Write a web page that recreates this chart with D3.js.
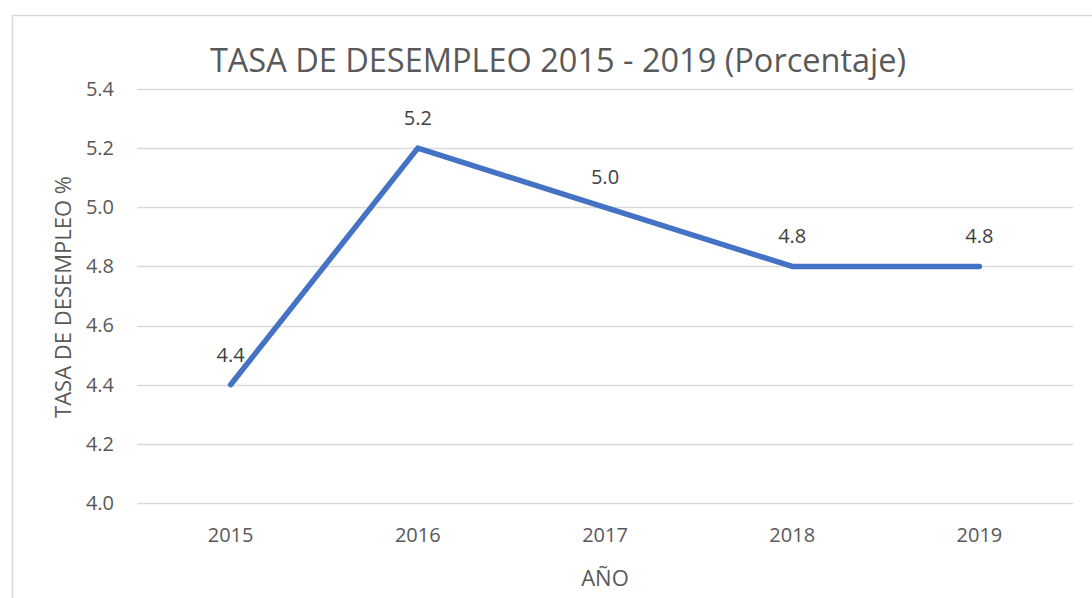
<!DOCTYPE html>
<html><head><meta charset="utf-8">
<script src="https://cdn.jsdelivr.net/npm/d3@7"></script>
<style>html,body{margin:0;padding:0;background:#fff;}svg{display:block;}</style>
</head><body>
<script>
const years = ["2015","2016","2017","2018","2019"];
const rates = [4.4, 5.2, 5.0, 4.8, 4.8];
const yTicks = [4.0, 4.2, 4.4, 4.6, 4.8, 5.0, 5.2, 5.4];
const titleText = "TASA DE DESEMPLEO 2015 - 2019 (Porcentaje)";
const yTitle = "TASA DE DESEMPLEO %";
const xTitle = "AÑO";

const W = 1092, H = 598;
const font = "'Open Sans', sans-serif";
const svg = d3.select("body").append("svg").attr("width", W).attr("height", H);

// chart border
svg.append("rect").attr("x", 12.5).attr("y", 15.5).attr("width", 1100).attr("height", 620)
  .attr("fill", "#fff").attr("stroke", "#d9d9d9").attr("stroke-width", 1.5);

const x = d3.scaleBand().domain(years).range([137, 1073]);
const y = d3.scaleLinear().domain([4.0, 5.4]).range([503, 89]);

// gridlines
svg.append("g").selectAll("line").data(yTicks).join("line")
  .attr("x1", 137).attr("x2", 1073)
  .attr("y1", d => Math.round(y(d)) + 0.5).attr("y2", d => Math.round(y(d)) + 0.5)
  .attr("stroke", "#d9d9d9").attr("stroke-width", 1.3);

// y axis
const yAxis = svg.append("g").attr("transform", "translate(137,0)")
  .call(d3.axisLeft(y).tickValues(yTicks).tickFormat(d3.format(".1f")).tickSize(0).tickPadding(23));
yAxis.select(".domain").remove();
yAxis.selectAll("text").attr("font-family", font).attr("font-size", 20).attr("fill", "#595959");

// x axis
const xAxis = svg.append("g").attr("transform", "translate(0,503)")
  .call(d3.axisBottom(x).tickSize(0).tickPadding(25));
xAxis.select(".domain").remove();
xAxis.selectAll("text").attr("font-family", font).attr("font-size", 20).attr("fill", "#595959");

// line
const line = d3.line().x((d, i) => x(years[i]) + x.bandwidth() / 2).y(d => y(d));
svg.append("path").datum(rates).attr("d", line)
  .attr("fill", "none").attr("stroke", "#4472C4").attr("stroke-width", 5.5)
  .attr("stroke-linecap", "round").attr("stroke-linejoin", "round");

// data labels
svg.append("g").selectAll("text").data(rates).join("text")
  .attr("x", (d, i) => x(years[i]) + x.bandwidth() / 2)
  .attr("y", d => y(d) - 23)
  .attr("text-anchor", "middle").attr("font-family", font).attr("font-size", 20)
  .attr("fill", "#404040").text(d => d3.format(".1f")(d));

// title
svg.append("text").attr("x", 558).attr("y", 72).attr("text-anchor", "middle")
  .attr("font-family", font).attr("font-size", 32.5).attr("fill", "#595959").text(titleText);

// axis titles
svg.append("text").attr("transform", "translate(71,297) rotate(-90)").attr("text-anchor", "middle")
  .attr("font-family", font).attr("font-size", 22).attr("fill", "#595959").text(yTitle);
svg.append("text").attr("x", 605).attr("y", 586).attr("text-anchor", "middle")
  .attr("font-family", font).attr("font-size", 22).attr("fill", "#595959").text(xTitle);
</script>
</body></html>
